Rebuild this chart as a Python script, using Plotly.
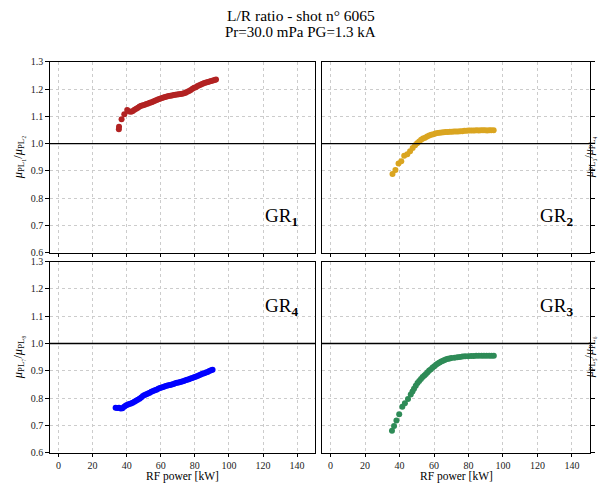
import plotly.graph_objects as go

# ---- data ----
gr1_x = [35.4, 35.5, 37.0, 38.6, 40.3, 41.5, 42.6, 43.6, 44.6, 45.6, 46.6, 47.6, 48.6, 49.6, 50.6, 51.6, 52.6,
         53.6, 54.6, 55.6, 56.6, 57.6, 58.6, 59.6, 60.6, 61.6, 62.6, 63.6, 64.6, 65.6, 66.6, 67.6, 68.6, 69.6,
         70.6, 71.6, 72.6, 73.6, 74.6, 75.6, 76.6, 77.6, 78.6, 79.6, 80.6, 81.6, 82.6, 83.6, 84.6, 85.6, 86.6,
         87.6, 88.6, 89.6, 90.6, 91.6, 92.4]
gr1_y = [1.053, 1.062, 1.090, 1.108, 1.123, 1.118, 1.117, 1.120, 1.124, 1.128, 1.132, 1.136, 1.139, 1.141,
         1.143, 1.145, 1.147, 1.150, 1.152, 1.155, 1.157, 1.160, 1.163, 1.165, 1.167, 1.169, 1.171, 1.173,
         1.175, 1.176, 1.177, 1.178, 1.179, 1.180, 1.181, 1.182, 1.183, 1.185, 1.187, 1.190, 1.193, 1.197,
         1.201, 1.205, 1.207, 1.211, 1.214, 1.217, 1.220, 1.222, 1.224, 1.226, 1.228, 1.230, 1.232, 1.233, 1.235]

gr2_x = [35.9, 37.6, 39.4, 41.0, 42.7, 44.5, 46.1, 47.6, 49.0, 50.2, 51.4, 52.5, 53.6, 54.8, 56.0, 57.2, 58.4,
         59.6, 60.8, 62.0, 63.2, 64.4, 65.6, 66.8, 68.0, 69.2, 70.4, 71.6, 72.8, 74.0, 75.2, 76.4, 77.6, 78.8,
         80.0, 81.2, 82.4, 83.6, 84.8, 86.0, 87.2, 88.4, 89.6, 90.8, 92.0, 93.2, 94.6]
gr2_y = [0.889, 0.904, 0.927, 0.936, 0.956, 0.961, 0.972, 0.984, 0.994, 1.002, 1.008, 1.014, 1.019, 1.022,
         1.026, 1.030, 1.033, 1.035, 1.037, 1.039, 1.040, 1.041, 1.042, 1.043, 1.043, 1.044, 1.044, 1.045,
         1.045, 1.045, 1.046, 1.046, 1.047, 1.047, 1.048, 1.048, 1.048, 1.048, 1.049, 1.048, 1.049, 1.049,
         1.049, 1.048, 1.049, 1.049, 1.049]

gr4_x = [33.5, 34.5, 35.5, 36.5, 37.5, 38.5, 39.5, 40.5, 41.5, 42.5, 43.5, 44.5, 45.5, 46.5, 47.5, 48.5, 49.5,
         50.5, 51.5, 52.5, 53.5, 54.5, 55.5, 56.5, 57.5, 58.5, 59.5, 60.5, 61.5, 62.5, 63.5, 64.5, 65.5, 66.5,
         67.5, 68.5, 69.5, 70.5, 71.5, 72.5, 73.5, 74.5, 75.5, 76.5, 77.5, 78.5, 79.5, 80.5, 81.5, 82.5, 83.5,
         84.5, 85.5, 86.5, 87.5, 88.5, 89.5, 90.4]
gr4_y = [0.765, 0.764, 0.765, 0.762, 0.763, 0.768, 0.773, 0.776, 0.778, 0.780, 0.783, 0.787, 0.790, 0.794,
         0.798, 0.802, 0.808, 0.811, 0.814, 0.817, 0.820, 0.823, 0.826, 0.829, 0.831, 0.834, 0.837, 0.839,
         0.841, 0.843, 0.845, 0.847, 0.848, 0.850, 0.852, 0.854, 0.856, 0.857, 0.859, 0.861, 0.863, 0.865,
         0.867, 0.869, 0.872, 0.874, 0.876, 0.878, 0.881, 0.884, 0.886, 0.889, 0.891, 0.894, 0.896, 0.899,
         0.902, 0.904]

gr3_x = [35.6, 36.8, 38.2, 39.8, 41.6, 43.1, 44.9, 46.5, 47.5, 48.4, 49.4, 50.4, 51.4, 52.4, 53.4, 54.4, 55.3,
         56.3, 57.2, 58.2, 59.2, 60.2, 61.2, 62.2, 63.2, 64.2, 65.2, 66.1, 67.1, 68.1, 69.1, 70.1, 71.9, 73.5,
         75.0, 76.5, 78.0, 79.8, 81.5, 83.0, 84.5, 86.0, 87.6, 89.0, 90.5, 92.0, 93.4, 94.7]
gr3_y = [0.680, 0.698, 0.718, 0.741, 0.768, 0.781, 0.797, 0.813, 0.824, 0.834, 0.845, 0.855, 0.863, 0.870,
         0.877, 0.883, 0.888, 0.895, 0.901, 0.906, 0.912, 0.917, 0.922, 0.927, 0.930, 0.934, 0.937, 0.940,
         0.942, 0.944, 0.945, 0.947, 0.948, 0.950, 0.951, 0.952, 0.953, 0.953, 0.954, 0.954, 0.955, 0.955,
         0.955, 0.955, 0.955, 0.955, 0.955, 0.955]

x_ticks = [0, 20, 40, 60, 80, 100, 120, 140]
y_ticks = [0.6, 0.7, 0.8, 0.9, 1.0, 1.1, 1.2, 1.3]
title_lines = ["L/R ratio - shot n° 6065", "Pr=30.0 mPa PG=1.3 kA"]
x_title = "RF power [kW]"
ylabels = {
    "tl": "<i>μ</i><sub>PL₁</sub>/<i>μ</i><sub>PL₂</sub>",
    "tr": "<i>μ</i><sub>PL₃</sub>/<i>μ</i><sub>PL₄</sub>",
    "bl": "<i>μ</i><sub>PL₇</sub>/<i>μ</i><sub>PL₈</sub>",
    "br": "<i>μ</i><sub>PL₅</sub>/<i>μ</i><sub>PL₆</sub>",
}
gr_labels = {"tl": "GR<sub><b>1</b></sub>", "tr": "GR<sub><b>2</b></sub>",
             "bl": "GR<sub><b>4</b></sub>", "br": "GR<sub><b>3</b></sub>"}

FONT = "Liberation Serif"
W, H = 601, 490

# domains (pixels -> paper)
xl = [50 / W, 315 / W]
xr = [322 / W, 590 / W]
yt = [(H - 253) / H, (H - 58) / H]
yb = [(H - 457) / H, (H - 262) / H]

panels = {
    "tl": ("", xl, yt, gr1_x, gr1_y, "#b22222", False, False),
    "tr": ("2", xr, yt, gr2_x, gr2_y, "#daa520", False, True),
    "bl": ("3", xl, yb, gr4_x, gr4_y, "#0000ff", True, False),
    "br": ("4", xr, yb, gr3_x, gr3_y, "#2e8b57", True, True),
}

fig = go.Figure()
layout = dict(width=W, height=H, margin=dict(l=0, r=0, t=0, b=0),
              paper_bgcolor="white", plot_bgcolor="white", showlegend=False,
              font=dict(family=FONT, color="black", size=11))
annotations = []
shapes = []

for key, (suf, xd, yd, xs, ys, col, bottom, right) in panels.items():
    xa = "x" + suf
    ya = "y" + suf
    fig.add_trace(go.Scatter(x=xs, y=ys, mode="markers", xaxis=xa, yaxis=ya,
                             marker=dict(color=col, size=6, line=dict(width=0))))
    axis_common = dict(showline=True, linecolor="black", linewidth=1.3, mirror=True,
                       ticks="outside", ticklen=3.5, tickwidth=1, tickcolor="black",
                       showgrid=True, gridcolor="#cccccc", griddash="dot", gridwidth=1,
                       zeroline=False, tickfont=dict(family=FONT, size=10, color="#222"))
    layout["xaxis" + suf] = dict(axis_common, domain=xd, range=[-5, 150.5], tickvals=x_ticks,
                                 anchor=ya, showticklabels=bottom)
    layout["yaxis" + suf] = dict(axis_common, domain=yd, range=[0.6, 1.3], tickvals=y_ticks,
                                 tickformat=".1f", anchor=xa, side="right" if right else "left",
                                 showticklabels=not right)
    shapes.append(dict(type="line", xref=xa + " domain", yref=ya, x0=0, x1=1, y0=1.0, y1=1.0,
                       line=dict(color="black", width=1.3), layer="above"))
    # y label
    if right:
        annotations.append(dict(text=ylabels[key], xref="paper", yref="paper", x=1.0, xshift=-1,
                                y=(yd[0] + yd[1]) / 2, textangle=-90, showarrow=False,
                                font=dict(family=FONT, size=12), xanchor="right", yanchor="middle"))
    else:
        annotations.append(dict(text=ylabels[key], xref="paper", yref="paper", x=19 / W,
                                y=(yd[0] + yd[1]) / 2, textangle=-90, showarrow=False,
                                font=dict(family=FONT, size=12.5), xanchor="center", yanchor="middle"))
    # GR label
    gy = 0.185 if key in ("tl", "tr") else 0.765
    annotations.append(dict(text=gr_labels[key], xref=xa + " domain", yref=ya + " domain",
                            x=0.875, y=gy, showarrow=False, font=dict(family=FONT, size=19),
                            xanchor="center", yanchor="middle"))
    if bottom:
        annotations.append(dict(text=x_title, xref="paper", yref="paper",
                                x=(xd[0] + xd[1]) / 2, y=0, yanchor="bottom", showarrow=False,
                                font=dict(family=FONT, size=11.5), xanchor="center"))

annotations.append(dict(text=title_lines[0], xref="paper", yref="paper", x=0.5, y=(H - 11) / H,
                        showarrow=False, font=dict(family=FONT, size=15.5), xanchor="center", yanchor="middle"))
annotations.append(dict(text=title_lines[1], xref="paper", yref="paper", x=0.5, y=(H - 28) / H,
                        showarrow=False, font=dict(family=FONT, size=15), xanchor="center", yanchor="middle"))

layout["annotations"] = annotations
layout["shapes"] = shapes
fig.update_layout(**layout)
fig.write_html("out.html")
